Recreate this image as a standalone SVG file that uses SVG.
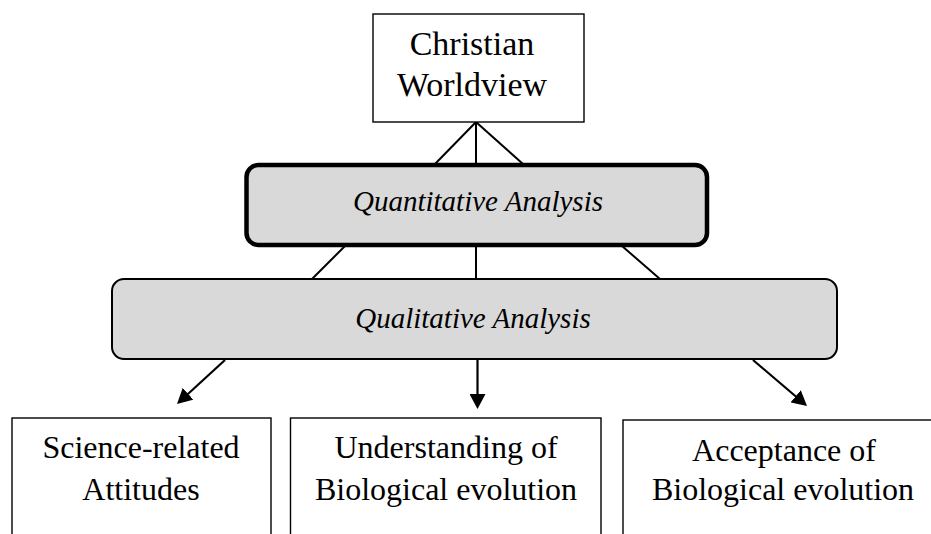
<svg xmlns="http://www.w3.org/2000/svg" width="931" height="534" viewBox="0 0 931 534">
<defs>
<style>
.box{fill:#ffffff;stroke:#000;stroke-width:1.4}
.quant{fill:#d9d9d9;stroke:#000;stroke-width:4.5}
.qual{fill:#d9d9d9;stroke:#000;stroke-width:2}
text{font-family:'Liberation Serif','Times New Roman',Times,'DejaVu Serif',serif;fill:#000;text-anchor:middle}
.t{font-size:32px}
.tc{font-size:34px}
.ti{font-size:29px;font-style:italic}
.ln{stroke:#000;stroke-width:2;fill:none}
.arr{stroke:#000;stroke-width:2.2;fill:none;marker-end:url(#ah)}
</style>
<marker id="ah" viewBox="0 0 15 16" markerWidth="15" markerHeight="16" refX="5" refY="8" orient="auto" markerUnits="userSpaceOnUse">
<path d="M0,0 L15,8 L0,16 z" fill="#000"/>
</marker>
</defs>
<g id="connectors">
<line class="ln" x1="476" y1="122" x2="435" y2="164"/>
<line class="ln" x1="476" y1="122" x2="476" y2="164"/>
<line class="ln" x1="476" y1="122" x2="523" y2="164"/>
<line class="ln" x1="345" y1="246" x2="312" y2="279"/>
<line class="ln" x1="476" y1="246" x2="476" y2="279"/>
<line class="ln" x1="622" y1="246" x2="660" y2="279"/>
<line class="arr" x1="225" y1="360" x2="184.4" y2="397.2"/>
<line class="arr" x1="477.5" y1="360" x2="477.5" y2="399"/>
<line class="arr" x1="753" y1="360" x2="799.4" y2="399.5"/>
</g>
<g id="christian-worldview">
<rect class="box" x="373" y="14" width="211" height="108"/>
<text class="tc" x="472" y="55">Christian</text>
<text class="tc" x="472" y="96">Worldview</text>
</g>
<g id="quantitative-analysis">
<rect class="quant" x="246.5" y="165" width="460.5" height="80" rx="12" ry="12"/>
<text class="ti" x="478" y="211">Quantitative Analysis</text>
</g>
<g id="qualitative-analysis">
<rect class="qual" x="112" y="279" width="725" height="80" rx="12" ry="12"/>
<text class="ti" x="473" y="328">Qualitative Analysis</text>
</g>
<g id="science-related-attitudes">
<rect class="box" x="12" y="418" width="259" height="200"/>
<text class="t" x="141" y="458">Science-related</text>
<text class="t" x="141" y="500">Attitudes</text>
</g>
<g id="understanding">
<rect class="box" x="290.5" y="418" width="310.5" height="200"/>
<text class="t" x="446" y="458">Understanding of</text>
<text class="t" x="446" y="500">Biological evolution</text>
</g>
<g id="acceptance">
<rect class="box" x="623" y="420" width="320" height="200"/>
<text class="t" x="784" y="461">Acceptance of</text>
<text class="t" x="783" y="500">Biological evolution</text>
</g>
</svg>
